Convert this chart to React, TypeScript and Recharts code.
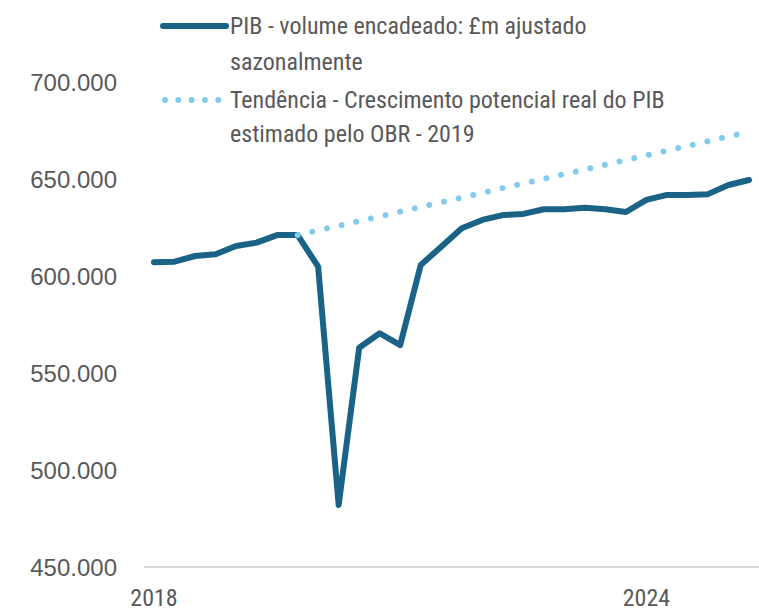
import React from 'react';
import { LineChart, Line, XAxis, YAxis } from 'recharts';

const quarters: string[] = [
  '2018 T1', '2018 T2', '2018 T3', '2018 T4',
  '2019 T1', '2019 T2', '2019 T3', '2019 T4',
  '2020 T1', '2020 T2', '2020 T3', '2020 T4',
  '2021 T1', '2021 T2', '2021 T3', '2021 T4',
  '2022 T1', '2022 T2', '2022 T3', '2022 T4',
  '2023 T1', '2023 T2', '2023 T3', '2023 T4',
  '2024 T1', '2024 T2', '2024 T3', '2024 T4',
  '2025 T1', '2025 T2',
];

const gdp: number[] = [
  607100, 607400, 610300, 611200,
  615500, 617200, 621100, 621100,
  604800, 482000, 563000, 570500,
  564400, 605700, 615100, 624600,
  628900, 631400, 632000, 634400,
  634400, 635200, 634400, 633000,
  639200, 641800, 641800, 642200,
  646900, 649500,
];

const trend: (number | null)[] = [
  null, null, null, null,
  null, null, null, 621100,
  623500, 625900, 628300, 630700,
  633200, 635600, 638000, 640400,
  642800, 645300, 647700, 650100,
  652500, 654900, 657400, 659800,
  662200, 664600, 667000, 669500,
  671900, 674300,
];

const yTicks: number[] = [450000, 500000, 550000, 600000, 650000, 700000];
const xTickLabels: Record<string, string> = { '2018 T1': '2018', '2024 T1': '2024' };

const seriesNames = {
  gdp: ['PIB - volume encadeado: £m ajustado', 'sazonalmente'],
  trend: ['Tendência - Crescimento potencial real do PIB', 'estimado pelo OBR - 2019'],
};

const data = quarters.map((q, i) => ({ q, gdp: gdp[i], trend: trend[i] }));

const DARK = '#1a6386';
const LIGHT = '#84cbeb';
const TEXT = '#595959';
const NARROW = "'Liberation Sans Narrow', 'Arial Narrow', 'Roboto Condensed', 'Liberation Sans', sans-serif";
const REG = "'Liberation Sans', Arial, sans-serif";

const fmt = (v: number) => {
  const k = Math.round(v / 1000);
  return `${k}.000`;
};

export default function App() {
  return (
    <div style={{ position: 'relative', width: 759, height: 613, background: '#fff' }}>
      <style>{`body{margin:0}`}</style>
      <LineChart width={759} height={613} data={data} margin={{ top: 82, right: 0, bottom: 0, left: 0 }}>
        <XAxis
          dataKey="q"
          interval={0}
          tickFormatter={(v: string) => xTickLabels[v] ?? ''}
          tickLine={false}
          tickSize={0}
          tickMargin={22}
          height={46}
          axisLine={{ stroke: '#d9d9d9', strokeWidth: 2 }}
          padding={{ left: 10, right: 10 }}
          tick={{ fill: TEXT, fontSize: 24, fontFamily: NARROW }}
        />
        <YAxis
          domain={[450000, 700000]}
          ticks={yTicks}
          tickFormatter={fmt}
          width={144}
          axisLine={false}
          tickLine={false}
          tickSize={0}
          tickMargin={27}
          tick={{ fill: TEXT, fontSize: 24, fontFamily: REG }}
        />
        <Line
          type="linear"
          dataKey="gdp"
          stroke={DARK}
          strokeWidth={6}
          strokeLinejoin="round"
          strokeLinecap="round"
          dot={false}
          isAnimationActive={false}
        />
        <Line
          type="linear"
          dataKey="trend"
          stroke={LIGHT}
          strokeWidth={6}
          strokeDasharray="0.01 15"
          strokeLinecap="round"
          dot={false}
          connectNulls={false}
          isAnimationActive={false}
        />
      </LineChart>
      <div style={{ position: 'absolute', left: 0, top: 0, width: 759, height: 150, pointerEvents: 'none' }}>
        <svg style={{ position: 'absolute', left: 160, top: 20 }} width={70} height={12}>
          <line x1={3} y1={6} x2={66} y2={6} stroke={DARK} strokeWidth={6} strokeLinecap="round" />
        </svg>
        <div style={{ position: 'absolute', left: 230, top: 8, fontFamily: NARROW, fontSize: 24, lineHeight: '36px', color: TEXT, whiteSpace: 'nowrap' }}>
          {seriesNames.gdp[0]}<br />{seriesNames.gdp[1]}
        </div>
        <svg style={{ position: 'absolute', left: 160, top: 94 }} width={70} height={12}>
          <line x1={5} y1={6} x2={60} y2={6} stroke={LIGHT} strokeWidth={6} strokeDasharray="0.01 13.3" strokeLinecap="round" />
        </svg>
        <div style={{ position: 'absolute', left: 230, top: 83, fontFamily: NARROW, fontSize: 24, lineHeight: '34px', color: TEXT, whiteSpace: 'nowrap' }}>
          {seriesNames.trend[0]}<br />{seriesNames.trend[1]}
        </div>
      </div>
    </div>
  );
}
